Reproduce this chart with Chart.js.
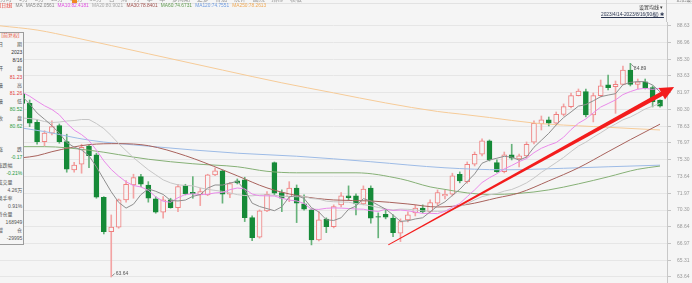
<!DOCTYPE html>
<html><head><meta charset="utf-8">
<script src="https://cdn.jsdelivr.net/npm/chart.js@4/dist/chart.umd.min.js"></script>
<style>
html,body{margin:0;padding:0;background:#f5f5f5;}
#wrap{position:relative;width:692px;height:283px;overflow:hidden;background:#f5f5f5;font-family:"Liberation Sans","Noto Sans CJK SC",sans-serif;}
canvas{position:absolute;left:0;top:0;}
.t{position:absolute;white-space:nowrap;line-height:1;}
#panel{position:absolute;left:-2px;top:32px;width:24px;height:211px;border:1px solid #9c9c9c;background:#f5f5f5;}
#legend{position:absolute;left:0;top:4px;font-size:4.8px;white-space:nowrap;line-height:1;}
#legend span{margin-right:3.2px;}
</style></head>
<body><div id="wrap">
<div id="holder"></div>
<div class="t" style="left:0;top:-4px;font-size:6px;color:#999;word-spacing:5px">分时 1分 5分 15分 30分 60分 日 周 月 季 年 多周期 更多 叠加 统计 画线 指标 模板</div>
<div style="position:absolute;left:72px;top:0;width:5px;height:3px;background:#f08a24"></div>
<div style="position:absolute;left:0;top:3px;width:692px;height:1px;background:#e2e2e2"></div>
<div class="t" style="left:676px;top:-3px;font-size:5px;color:#777">记忆设置</div>
<div style="position:absolute;left:666px;top:0;width:1px;height:22px;background:#c8c8c8"></div>
<div id="legend"></div>
<div class="t" style="left:639px;top:5px;font-size:5px;color:#333">设置均线 ▾</div>
<div class="t" style="left:601px;top:13.3px;font-size:4.8px;color:#2a3550;text-decoration:underline">2023/4/14-2023/8/16(90根) ✱</div>
<div id="panel"></div>
</div>
<script>
// ---------- data ----------
const openP = [81.0,81.6,81.0,81.8,80.92,79.03,77.10,77.94,78.69,77.10,
74.29,74.85,76.67,75.78,71.57,68.15,68.59,71.30,72.79,73.62,
72.79,71.40,70.08,71.30,70.54,72.73,72.07,71.80,71.80,73.79,
74.19,71.87,73.19,73.29,69.55,67.60,70.21,75.01,72.03,71.63,
72.47,70.91,70.31,67.33,69.39,68.65,70.81,71.70,71.70,70.91,
72.47,69.64,69.88,69.49,67.99,69.32,70.01,70.48,70.14,70.98,
71.70,71.87,73.86,73.12,74.85,75.85,77.17,75.01,74.12,75.78,
75.38,75.68,77.04,78.86,79.26,78.93,79.82,80.58,81.67,82.07,
79.75,81.67,82.74,82.57,82.80,84.23,82.80,83.06,82.47,81.23];
const highP = [82.3,81.9,82.0,81.9,81.24,79.26,78.19,79.16,78.86,77.84,
75.05,76.84,76.77,75.95,71.63,69.81,71.40,73.22,73.86,73.86,
73.12,71.63,71.63,71.47,72.86,72.86,73.62,72.47,73.86,74.46,
74.29,73.06,73.39,73.56,69.71,70.31,72.13,75.08,72.30,73.12,
72.79,71.80,70.41,70.14,69.52,70.81,72.03,72.70,71.90,72.70,
72.70,70.01,70.31,69.81,69.42,70.11,70.81,70.81,71.30,72.30,
72.30,73.96,74.09,75.08,76.07,77.37,77.27,75.28,76.07,76.84,
75.87,77.07,79.16,79.65,79.55,80.05,80.85,81.94,82.34,82.34,
81.94,83.23,83.73,83.13,84.62,84.89,83.33,83.33,82.64,81.26];
const lowP = [80.6,80.7,80.9,80.7,78.59,76.84,76.70,77.77,76.94,74.06,
74.06,73.96,74.52,71.47,67.92,63.64,68.49,71.08,71.47,72.63,
71.08,69.98,69.49,70.48,70.14,71.80,71.47,70.74,71.73,73.72,
70.98,71.53,72.89,69.15,67.26,67.50,70.14,71.80,70.14,71.13,
69.05,70.28,66.83,67.23,68.05,68.52,70.61,71.30,69.81,70.81,
68.99,67.53,69.42,67.66,67.16,69.12,69.71,70.01,70.01,70.71,
71.40,71.70,73.00,72.96,74.68,75.68,75.18,74.04,73.99,75.28,
74.58,75.48,76.87,78.26,78.66,78.76,79.65,80.45,81.64,79.55,
79.06,81.54,82.24,79.92,82.74,82.64,82.34,82.34,80.55,80.52];
const closeP = [81.5,81.0,81.8,80.9,78.93,77.10,77.94,78.59,77.10,74.36,
74.78,76.54,75.71,71.57,68.15,68.59,71.30,72.86,73.52,72.86,
71.47,70.08,71.30,70.54,72.63,71.90,71.93,72.13,73.79,74.19,
71.87,72.93,72.99,69.55,67.56,70.21,71.87,71.97,71.47,72.47,
70.98,70.38,67.33,69.32,68.65,70.64,71.70,71.53,70.91,72.37,
69.49,69.58,69.58,68.05,69.15,69.81,70.48,70.14,71.04,72.03,
71.87,73.69,73.19,74.85,75.85,77.17,75.28,74.12,75.78,75.45,
75.68,76.84,78.93,79.26,78.93,79.82,80.58,81.67,82.14,79.75,
81.67,82.64,82.47,82.80,84.23,82.80,83.06,82.47,81.08,80.62];

const ma5 = [82.3,82.0,81.9,81.6,80.83,79.95,79.33,78.69,77.93,77.02,
76.55,76.27,75.70,74.59,73.35,72.11,71.06,70.49,70.88,71.83,
72.40,72.16,71.85,71.25,71.20,71.29,71.66,71.83,72.48,72.79,
72.78,72.98,73.15,72.31,70.98,70.65,70.44,70.23,70.62,71.60,
71.75,71.45,70.53,70.10,69.33,69.26,69.53,70.37,70.69,71.43,
71.20,70.78,70.39,69.81,69.17,69.23,69.41,69.53,70.12,70.70,
71.11,71.75,72.36,73.13,73.89,74.95,75.27,75.45,75.64,75.56,
75.26,75.57,76.54,77.23,77.93,78.76,79.50,80.05,80.63,80.79,
81.16,81.57,81.73,81.87,82.76,82.99,83.07,83.07,82.73,82.06];
const ma10 = [82.4,82.3,82.2,82.0,81.62,81.13,80.67,80.30,79.77,78.93,
78.25,77.80,77.20,76.26,75.19,74.33,73.67,73.10,72.74,72.59,
72.26,71.61,71.17,71.07,71.52,71.85,71.91,71.84,71.87,72.00,
72.04,72.32,72.49,72.40,71.89,71.72,71.71,71.69,71.47,71.29,
71.20,70.95,70.38,70.36,70.47,70.51,70.49,70.45,70.40,70.38,
70.23,70.16,70.38,70.25,70.30,70.22,70.10,69.96,69.97,69.94,
70.17,70.58,70.95,71.63,72.30,73.03,73.51,73.91,74.39,74.73,
75.11,75.42,76.00,76.44,76.75,77.01,77.54,78.30,78.93,79.36,
79.96,80.54,80.89,81.25,81.78,82.08,82.32,82.40,82.30,82.42];
const ma20 = [79.7,79.6,79.5,79.45,79.4,79.3,79.1,79.0,79.05,79.15,
79.2,79.3,79.3,78.9,78.4,77.7,76.9,76.2,75.5,74.9,
74.3,73.8,73.3,73.0,72.8,72.75,72.7,72.5,72.35,72.25,
72.15,72.0,71.83,71.74,71.71,71.79,71.81,71.77,71.67,71.65,
71.62,71.64,71.44,71.38,71.18,71.12,71.10,71.07,70.94,70.84,
70.72,70.56,70.38,70.31,70.39,70.37,70.30,70.21,70.19,70.16,
70.20,70.37,70.67,70.94,71.30,71.63,71.81,71.94,72.18,72.34,
72.64,73.00,73.48,74.04,74.53,75.02,75.53,76.11,76.66,77.05,
77.54,77.98,78.45,78.85,79.27,79.55,79.93,80.35,80.62,80.90];
// longer averages read at sample candles: [candle index, value]
const ma30 = [[0,75.3],[3,75.5],[5,75.7],[7,76.1],[12,76.8],[16,76.9],[20,76.7],[25,75.7],[30,74.3],[32,73.7],[36,72.5],[40,71.75],[45,71.3],[50,71.2],[55,70.9],[59,70.6],[63,70.85],[67,71.5],[70,72.0],[74,73.2],[78,74.5],[82,76.1],[85,77.3],[89,78.84]];
const ma60 = [[0,76.7],[3,76.6],[6,76.6],[12,76.25],[20,75.35],[26,74.9],[32,74.6],[36,74.15],[40,74.0],[48,74.0],[54,73.4],[58,72.6],[60,72.35],[63,72.0],[66,71.85],[70,71.95],[74,72.3],[78,72.9],[82,73.6],[86,74.35],[89,74.67]];
const ma120 = [[0,78.8],[3,78.45],[6,78.1],[12,77.25],[20,76.65],[32,75.95],[40,75.65],[50,75.1],[60,74.5],[68,74.3],[76,74.45],[82,74.6],[89,74.76]];
const ma250 = [[0,88.62],[5,88.2],[10,87.46],[20,85.84],[30,84.22],[38,82.95],[45,81.95],[52,80.95],[59,80.1],[62,79.85],[66,79.5],[72,78.95],[80,78.6],[89,78.26]];

const yTicks = [88.63,86.96,85.30,83.63,81.97,80.30,78.63,76.97,75.30,73.64,71.97,70.30,68.64,66.97,65.31,63.64];
const legendNames = ['MA5','MA10','MA20','MA30','MA60','MA120','MA250'];
const legendValues = ['82.0561','82.4181','80.9021','78.8401','74.6731','74.7551','78.2613'];
const maColors = ['#8e8e8e','#e98ae9','#c6c6c6','#a8625c','#86b076','#9dbbe6','#f6cb98'];
const legendColors = ['#888','#e04fe0','#a9a9a9','#a0504c','#5f9a4e','#6e9be0','#f0a955'];
const arrowFrom = [52.36, 66.83];
const arrowTo = [90.9, 82.54];
const hiMark = [85, 84.89];
const loMark = [15, 63.64];

// ---------- header / panel ----------
const BG = '#f5f5f5';
const lg = document.getElementById('legend');
lg.innerHTML = '<span style="color:#e8443a">[日线]</span><span style="color:#888">MA</span>' +
  legendNames.map((n,k)=>'<span style="color:'+legendColors[k]+'">'+n+':'+legendValues[k]+'</span>').join('');

const panelItems = [
 ['[前复权]',36,'c','#e8553e'],['日|期',45,'l2','#555'],['2023',53,'r','#333'],['8/16',61,'r','#333'],
 ['开|盘',69,'l2','#555'],['81.23',78,'r','#e23b3b'],['最|高',86,'l2','#555'],['81.26',94,'r','#e23b3b'],
 ['最|低',102,'l2','#555'],['80.52',110,'r','#1e9a40'],['收|盘',119,'l2','#555'],['80.62',127,'r','#1e9a40'],
 ['涨|跌',150,'l2','#555'],['-0.17',158,'r','#1e9a40'],['涨跌幅',166,'l','#555'],['-0.21%',174,'r','#1e9a40'],
 ['成交量',183,'l','#555'],['4.26万',191,'r','#555'],['换手率',199,'l','#555'],['0.91%',207,'r','#555'],
 ['持仓量',215,'l','#555'],['168949',223,'r','#555'],['增|仓',231,'l2','#555'],['-29995',239,'r','#555']
];
const wrap = document.getElementById('wrap');
function addText(txt,left,top,color,size,extra){
  const d=document.createElement('div');d.className='t';d.textContent=txt;
  d.style.cssText+='left:'+left+'px;top:'+top+'px;color:'+color+';font-size:'+size+'px;'+(extra||'');
  wrap.appendChild(d);return d;
}
panelItems.forEach(([txt,cy,al,col])=>{
  const top=cy-2.6;
  if(al==='r'){addText(txt,0,top,col,5,'width:22.3px;text-align:right;');}
  else if(al==='c'){addText(txt,1.5,top,col,5);}
  else if(al==='l'){addText(txt,-2.5,top,col,5);}
  else {const p=txt.split('|');addText(p[0],-2,top,col,5);addText(p[1],17,top,col,5);}
});

// ---------- chart ----------
const idx = openP.map((_,i)=>i);
const isUp = i => closeP[i] >= openP[i];
const PINK='#ef7f7f', GREEN='#168a38', PINKW='#f3a3a3', GREENW='#66b27a';
const dense = arr => arr.map((v,i)=>({x:i,y:v}));
const sparse = arr => arr.map(([i,v])=>({x:i,y:v}));
function lineDs(data,color,tension){
  return {type:'line',data,borderColor:color,borderWidth:1,pointRadius:0,tension:tension,cubicInterpolationMode:tension?'monotone':'default',order:0,clip:0};
}
const overlay = {
  id:'overlay',
  afterDatasetsDraw(chart){
    const {ctx,scales:{x,y}}=chart;
    ctx.save();
    const x0=x.getPixelForValue(arrowFrom[0]),y0=y.getPixelForValue(arrowFrom[1]);
    const x1=x.getPixelForValue(arrowTo[0]),y1=y.getPixelForValue(arrowTo[1]);
    const dx=x1-x0,dy=y1-y0,L=Math.hypot(dx,dy),ux=dx/L,uy=dy/L,nx=-uy,ny=ux;
    const headLen=14,headW=6.5,w0=0.5,w1=2.2;
    const bx=x1-ux*headLen,by=y1-uy*headLen;
    ctx.fillStyle='#f31c1c';
    ctx.beginPath();
    ctx.moveTo(x0+nx*w0,y0+ny*w0);ctx.lineTo(bx+ux*2+nx*w1,by+uy*2+ny*w1);
    ctx.lineTo(bx+ux*2-nx*w1,by+uy*2-ny*w1);ctx.lineTo(x0-nx*w0,y0-ny*w0);ctx.closePath();ctx.fill();
    ctx.beginPath();ctx.moveTo(x1,y1);ctx.lineTo(bx+nx*headW,by+ny*headW);ctx.lineTo(bx-nx*headW,by-ny*headW);ctx.closePath();ctx.fill();
    ctx.strokeStyle='#555';ctx.lineWidth=0.7;
    const hx=x.getPixelForValue(hiMark[0]),hy=y.getPixelForValue(hiMark[1]);
    ctx.beginPath();ctx.moveTo(hx+1,hy+1);ctx.lineTo(hx+3.5,hy+3.5);ctx.stroke();
    const lx=x.getPixelForValue(loMark[0]),ly=y.getPixelForValue(loMark[1]);
    ctx.beginPath();ctx.moveTo(lx+1,ly-1);ctx.lineTo(lx+3.5,ly-3.5);ctx.stroke();
    ctx.restore();
  }
};
function makeConfig(){ return {
  type:'bar',
  data:{datasets:[
    lineDs(dense(ma5),maColors[0],0),
    lineDs(dense(ma10),maColors[1],0),
    lineDs(dense(ma20),maColors[2],0),
    lineDs(sparse(ma30),maColors[3],0.4),
    lineDs(sparse(ma60),maColors[4],0.4),
    lineDs(sparse(ma120),maColors[5],0.4),
    lineDs(sparse(ma250),maColors[6],0.4),
    {type:'bar',data:idx.map(i=>({x:i,y:[openP[i],closeP[i]]})),grouped:false,barThickness:5,
     backgroundColor:idx.map(i=>isUp(i)?BG:GREEN),borderColor:idx.map(i=>isUp(i)?PINK:GREEN),
     borderWidth:1,borderSkipped:false,order:1},
    {type:'bar',data:idx.map(i=>({x:i,y:[lowP[i],highP[i]]})),grouped:false,barThickness:1,
     backgroundColor:idx.map(i=>isUp(i)?PINKW:GREENW),borderWidth:0,order:2}
  ]},
  options:{
    responsive:false,animation:false,devicePixelRatio:1,
    layout:{padding:{top:22,left:0,right:0,bottom:0}},
    plugins:{legend:{display:false},tooltip:{enabled:false}},
    scales:{
      x:{type:'linear',min:0,max:89.94,display:false,offset:false,grid:{display:false}},
      y:{type:'linear',position:'right',min:63.04,max:89.0,
         afterFit:s=>{s.width=25;},
         afterBuildTicks:s=>{s.ticks=yTicks.map(v=>({value:v}));},
         ticks:{callback:v=>v.toFixed(2),font:{size:5,family:'Liberation Sans'},color:'#9a9a9a',padding:6,autoSkip:false},
         grid:{color:'#e6e6e6',lineWidth:1,drawTicks:true,tickLength:4,tickColor:'#c4c4c4'},
         border:{color:'#c8c8c8'}}
    }
  },
  plugins:[overlay]
};}
const holder = document.getElementById('holder');
function build(h){
  holder.innerHTML='';
  const cv=document.createElement('canvas');cv.width=692;cv.height=h;holder.appendChild(cv);
  return new Chart(cv, makeConfig());
}
let chart = build(283);
// the axis keeps some room under the plot; grow the canvas so the plot itself ends at the window's bottom edge
const gap = Math.round(chart.height - chart.chartArea.bottom);
if (gap > 0) { chart.destroy(); chart = build(283 + gap); }
// extreme price labels, positioned through the scales
const sx=chart.scales.x, sy=chart.scales.y;
addText(hiMark[1].toFixed(2), sx.getPixelForValue(hiMark[0])+3.5, sy.getPixelForValue(hiMark[1])+2.2,'#555',5);
addText(loMark[1].toFixed(2), sx.getPixelForValue(loMark[0])+4.5, sy.getPixelForValue(loMark[1])-6.2,'#555',5);
</script>
</body></html>
